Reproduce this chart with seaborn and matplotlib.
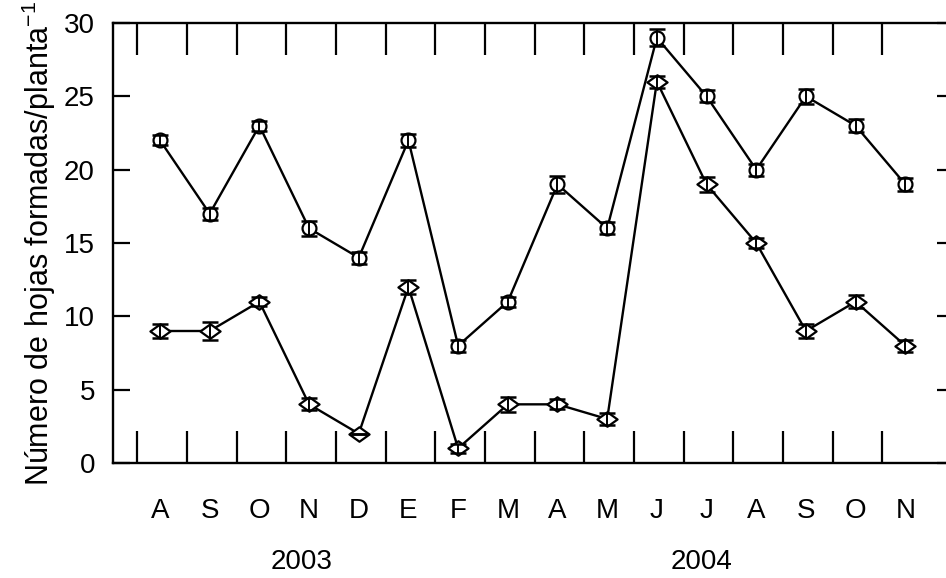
import numpy as np
import pandas as pd
import matplotlib
matplotlib.use("Agg")
import matplotlib.pyplot as plt
from matplotlib.path import Path
import seaborn as sns

months = ["A", "S", "O", "N", "D", "E", "F", "M", "A", "M", "J", "J", "A", "S", "O", "N"]
years = ["2003", "2004"]
circ_vals = [22, 17, 23, 16, 14, 22, 8, 11, 19, 16, 29, 25, 20, 25, 23, 19]
circ_err = [0.35, 0.4, 0.35, 0.5, 0.4, 0.45, 0.4, 0.35, 0.6, 0.4, 0.6, 0.4, 0.4, 0.5, 0.45, 0.45]
diam_vals = [9, 9, 11, 4, 2, 12, 1, 4, 4, 3, 26, 19, 15, 9, 11, 8]
diam_err = [0.5, 0.6, 0.3, 0.4, 0.0, 0.45, 0.3, 0.5, 0.35, 0.4, 0.4, 0.5, 0.35, 0.45, 0.45, 0.4]
yticks = [0, 5, 10, 15, 20, 25, 30]
ylabel = "Número de hojas formadas/planta$^{-1}$"

sns.set_style("ticks")
plt.rcParams["font.family"] = ["Liberation Sans Narrow", "Liberation Sans", "DejaVu Sans"]
plt.rcParams["mathtext.fontset"] = "custom"
plt.rcParams["mathtext.rm"] = "Liberation Sans"
plt.rcParams["mathtext.it"] = "Liberation Sans"
plt.rcParams["text.color"] = "black"
plt.rcParams["axes.labelcolor"] = "black"
plt.rcParams["xtick.color"] = "black"
plt.rcParams["ytick.color"] = "black"
plt.rcParams["axes.edgecolor"] = "black"

wide_diamond = Path([(-1, 0), (0, 0.72), (1, 0), (0, -0.72), (-1, 0)],
                    [Path.MOVETO, Path.LINETO, Path.LINETO, Path.LINETO, Path.CLOSEPOLY])

xpos = np.arange(len(months))
df = pd.DataFrame({"x": np.concatenate([xpos, xpos]),
                   "y": circ_vals + diam_vals,
                   "err": circ_err + diam_err,
                   "serie": ["c"] * len(months) + ["d"] * len(months)})

fig = plt.figure(figsize=(9.46, 5.78), dpi=100)
ax = fig.add_axes([113 / 946, 115 / 578, 841 / 946, 440 / 578])

for serie, mk, ms in [("c", "o", 10), ("d", wide_diamond, 14.5)]:
    sub = df[df["serie"] == serie]
    ax.errorbar(sub["x"], sub["y"], yerr=sub["err"], fmt="none", ecolor="black",
                elinewidth=1.4, capsize=6, capthick=1.8, zorder=4)
    sns.lineplot(data=sub, x="x", y="y", ax=ax, color="black", linewidth=1.7,
                 marker=mk, markersize=ms, markerfacecolor="white",
                 markeredgecolor="black", markeredgewidth=1.6, zorder=3,
                 errorbar=None, legend=False)

ax.set_xlim(-0.946, 15.98)
ax.set_ylim(0, 30)
ax.set_yticks(yticks)
ax.set_yticklabels([str(t) for t in yticks], fontsize=20)
ax.set_xticks(xpos)
ax.set_xticklabels(months, fontsize=20, family=["Liberation Sans"])
ax.set_xticks(xpos - 0.46, minor=True)
ax.tick_params(axis="x", which="major", length=0, pad=25, top=False)
ax.tick_params(axis="x", which="minor", direction="in", length=23, width=1.6,
               top=True, bottom=True)
ax.tick_params(axis="y", which="major", direction="in", length=12, width=1.6,
               left=True, right=True, pad=13)
ax.set_xlabel("")
ax.set_ylabel(ylabel, fontsize=22, labelpad=4, family=["Liberation Sans"])
for sp in ax.spines.values():
    sp.set_visible(True)
    sp.set_linewidth(1.7)

fig.text(302 / 946, 1 - 562 / 578, years[0], fontsize=20, ha="center", va="center",
         family=["Liberation Sans"])
fig.text(702 / 946, 1 - 562 / 578, years[1], fontsize=20, ha="center", va="center",
         family=["Liberation Sans"])

fig.savefig("out.png", dpi=100)
